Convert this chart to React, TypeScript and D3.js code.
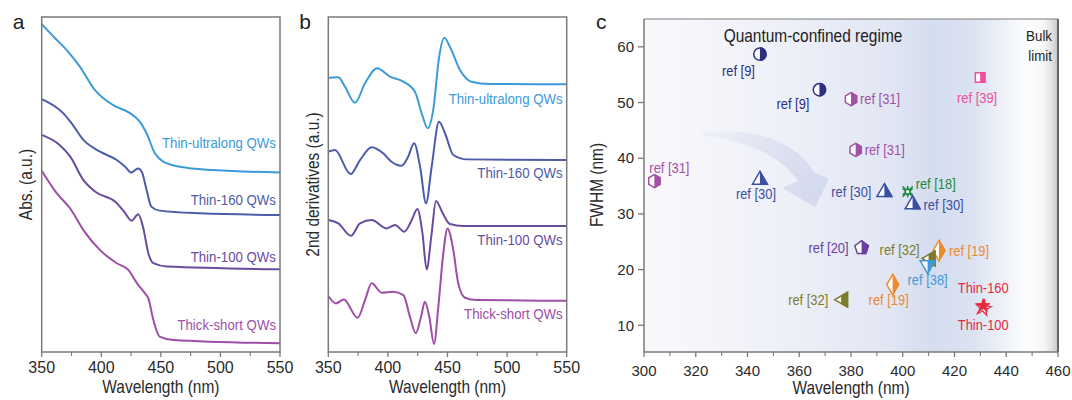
import React from "react";
import * as d3 from "d3";

// ---- panel a: absorption (a.u., offset stacked) ----
const absUltralong = [[350, 97.9], [360, 94.1], [371, 90.1], [382, 85.2], [394.7, 78.2], [410, 73.7], [424, 71.3], [432.5, 68.7], [438, 65.3], [445, 59.3], [452, 56.8], [466, 55.3], [494, 54.3], [550, 53.6]];
const absThin160 = [[350, 75.5], [368, 71.3], [375, 68.3], [385, 63.3], [399, 59.8], [413, 57.3], [420, 55.3], [425, 53.6], [431, 54.8], [434, 53.8], [438, 48.4], [442, 43.4], [449, 42.2], [483, 41.4], [550, 40.9]];
const absThin100 = [[350, 64.8], [365, 61.8], [374, 58.3], [385, 51.3], [396, 47.6], [411.5, 44.9], [419, 42.0], [425.5, 39.2], [431, 41.1], [435, 37.4], [439.5, 29.5], [443.7, 26.5], [455, 25.5], [550, 24.7]];
const absThickShort = [[350, 54.1], [362.6, 47.4], [373.8, 42.9], [385, 36.4], [399, 30.4], [413, 26.5], [422.7, 24.5], [430, 20.5], [436.7, 17.5], [439.5, 16], [443.7, 9.6], [449, 4.6], [460.5, 3.6], [550, 2.6]];

// ---- panel b: 2nd derivatives (a.u., offset stacked) ----
const derUltralong = [[350, 81.9], [358.4, 82.0], [364, 79.2], [372.4, 74.4], [380.8, 80.2], [391, 84.7], [401.7, 82.2], [413, 80.7], [422.7, 77.7], [428.3, 71.3], [433.4, 66.8], [438, 72.2], [443, 88.1], [447.3, 93.8], [452, 91.1], [460.5, 84.2], [470, 80.7], [485.7, 80.0], [550, 79.9]];
const derThin160 = [[350, 59.8], [355.6, 60.3], [368.7, 53.1], [376.6, 57.3], [386.4, 61.1], [396, 59.3], [403, 56.8], [411.5, 55.6], [417, 58.3], [422, 62.3], [427, 55.3], [432, 44.4], [436.7, 55.3], [442.9, 68.7], [447.9, 65.3], [454.9, 58.8], [466, 57.5], [550, 57.3]];
const derThin100 = [[350, 39.4], [358.4, 38.4], [369, 34.7], [376.6, 38.4], [386.4, 39.4], [399, 36.9], [406, 37.9], [413.8, 35.9], [420, 39.4], [424.7, 42.7], [429, 35.4], [432.5, 24.7], [436.7, 35.4], [440.3, 45.1], [446, 41.4], [452, 38.2], [463, 37.6], [550, 37.6]];
const derThickShort = [[350, 16.7], [356.4, 14.5], [363, 15.7], [374.6, 10.2], [380.8, 15.5], [386.4, 20.5], [394.8, 17.7], [404.5, 18.0], [413, 17.0], [418.5, 10.5], [423.3, 5.6], [427.8, 10.5], [431, 15.0], [434.7, 10.5], [438.7, 2.4], [442.3, 13.5], [446.5, 29.5], [450, 36.9], [454.9, 30.4], [459, 20.5], [464.7, 16.2], [474.5, 15.5], [550, 15.3]];

const sampleNames = ["Thin-ultralong QWs", "Thin-160 QWs", "Thin-100 QWs", "Thick-short QWs"];
const sampleColors = ["#3d9ad9", "#4c5ca9", "#6a4c9f", "#9e4ea6"];

const abTicks = [350, 400, 450, 500, 550];
const abMinor = [375, 425, 475, 525];

// ---- panel c: FWHM vs emission wavelength ----
const refNames = ["ref [9]", "ref [9]", "ref [31]", "ref [31]", "ref [39]", "ref [31]", "ref [30]", "ref [30]", "ref [18]", "ref [30]", "ref [20]", "ref [19]", "ref [32]", "ref [38]", "ref [19]", "ref [32]", "Thin-160", "Thin-100"];
const refWavelength = [344.8, 367.8, 380, 381.8, 429.9, 304, 344.8, 392.9, 401.9, 403.8, 384.1, 414, 410.8, 409.6, 396.1, 377, 431.1, 431.1];
const refFwhm = [58.7, 52.3, 50.6, 41.5, 54.5, 35.9, 36.1, 33.9, 34.0, 31.7, 23.9, 23.4, 22.0, 20.8, 17.3, 14.6, 13.5, 13.1];

const cXTicks = [300, 320, 340, 360, 380, 400, 420, 440, 460];
const cXMinor = [310, 330, 350, 370, 390, 410, 430, 450];
const cYTicks = [10, 20, 30, 40, 50, 60];

// styling of the markers / labels
const refShapes = ["circle", "circle", "hexagon", "hexagon", "square", "hexagon", "triangle", "triangle", "asterisk", "triangle", "pentagon", "diamond", "left", "down", "diamond", "left", "star", "starOpen"];
const refColors = ["#2c2f80", "#2c2f80", "#a24fa6", "#a24fa6", "#ee4f9c", "#a24fa6", "#3a4fa2", "#3a4fa2", "#1e8a3e", "#3a4fa2", "#6b40a0", "#f0892c", "#7c7c2c", "#3f9ad7", "#f0892c", "#7c7c2c", "#e8283c", "#e8283c"];
// label placement relative to the marker: dx, dy, anchor
const refLabelPos: [number, number, string][] = [
  [-5, 17, "end"], [-10, 14, "end"], [9, 0, "start"], [9, 0, "start"], [-3, 20, "middle"],
  [-5, -13, "start"], [-4, 14, "middle"], [-13, 0, "end"], [8, -8, "start"], [11, 0, "start"],
  [-13, 0, "end"], [10, 0, "start"], [-11, -9, "end"], [0, 15, "middle"], [-4, 15, "middle"],
  [-15, 0, "end"], [0, -18, "middle"], [0, 17, "middle"],
];

// curved hint arrow, in data units (nm, FWHM)
const arrowPts = [[321.6, 44.5], [341, 45.8], [358.4, 43.3], [365.7, 37.5], [371.5, 36.3], [366.1, 31.2], [353.5, 34.65], [359.5, 35.9], [352.6, 40.6], [339, 43.3], [322.8, 44.0]];

const FONT = "'Liberation Sans', Arial, Helvetica, sans-serif";
const AXIS = "#7a7a7a";
const INK = "#2a2a2a";

const NT = ({ x, y, size, fill = INK, anchor = "start", rotate = 0, sx = 0.86, children }: any) => (
  <text
    transform={`translate(${x},${y})${rotate ? ` rotate(${rotate})` : ""} scale(${sx},1)`}
    fontSize={size}
    fill={fill}
    textAnchor={anchor}
    dy="0.35em"
    fontFamily={FONT}
  >
    {children}
  </text>
);

const polygon = (n: number, rot: number) => ({
  draw(ctx: any, size: number) {
    const r = Math.sqrt(size / (0.5 * n * Math.sin((2 * Math.PI) / n)));
    for (let k = 0; k < n; k++) {
      const a = rot + (2 * Math.PI * k) / n;
      const px = r * Math.sin(a), py = -r * Math.cos(a);
      if (k === 0) ctx.moveTo(px, py);
      else ctx.lineTo(px, py);
    }
    ctx.closePath();
  },
});

const symbolTypes: any = {
  circle: [d3.symbolCircle, 120],
  hexagon: [polygon(6, 0), 110],
  square: [d3.symbolSquare, 90],
  triangle: [polygon(3, 0), 95],
  down: [polygon(3, Math.PI), 95],
  left: [polygon(3, -Math.PI / 2), 95],
  pentagon: [polygon(5, 0), 120],
  diamond: [d3.symbolDiamond, 120],
};

const SpectraPanel = ({ x0, x1, letter, ylabel, curves, labelY }: any) => {
  const top = 17, bottom = 352;
  const x = d3.scaleLinear().domain([350, 550]).range([x0, x1]);
  const y = d3.scaleLinear().domain([0, 100]).range([bottom, top]);
  const line = d3.line<number[]>().x((d) => x(d[0])).y((d) => y(d[1])).curve(d3.curveMonotoneX);
  return (
    <g>
      {curves.map((c: number[][], i: number) => (
        <path key={i} d={line(c) as string} fill="none" stroke={sampleColors[i]} strokeWidth={2} />
      ))}
      {sampleNames.map((n, i) => (
        <NT key={n} x={x1 - 4} y={labelY[i]} size={15.4} fill={sampleColors[i]} anchor="end">{n}</NT>
      ))}
      <rect x={x0} y={top} width={x1 - x0} height={bottom - top} fill="none" stroke={AXIS} strokeWidth={1.5} />
      {abTicks.map((t) => (
        <g key={t}>
          <line x1={x(t)} x2={x(t)} y1={bottom} y2={bottom + 5} stroke={AXIS} strokeWidth={1.3} />
          <text x={x(t)} y={373} textAnchor="middle" fontSize={16} fill={INK} fontFamily={FONT}>{t}</text>
        </g>
      ))}
      {abMinor.map((t) => (
        <line key={t} x1={x(t)} x2={x(t)} y1={bottom} y2={bottom + 4} stroke={AXIS} strokeWidth={1.1} />
      ))}
      <NT x={(x0 + x1) / 2} y={387} size={18} anchor="middle">Wavelength (nm)</NT>
      <NT x={x0 - 16} y={(top + bottom) / 2} size={18} anchor="middle" rotate={-90}>{ylabel}</NT>
      <text x={x0 - 29} y={29} fontSize={21} fill="#222" fontFamily={FONT}>{letter}</text>
    </g>
  );
};

const FwhmPanel = () => {
  const x0 = 644, x1 = 1058, top = 19, bottom = 352;
  const x = d3.scaleLinear().domain([300, 460]).range([x0, x1]);
  const y = d3.scaleLinear().domain([5.2, 65]).range([bottom, top]);
  const a = arrowPts.map((p) => [x(p[0]), y(p[1])]);
  const arrow = d3.path();
  arrow.moveTo(a[0][0], a[0][1]);
  arrow.bezierCurveTo(a[1][0], a[1][1], a[2][0], a[2][1], a[3][0], a[3][1]);
  arrow.lineTo(a[4][0], a[4][1]);
  arrow.lineTo(a[5][0], a[5][1]);
  arrow.lineTo(a[6][0], a[6][1]);
  arrow.lineTo(a[7][0], a[7][1]);
  arrow.bezierCurveTo(a[8][0], a[8][1], a[9][0], a[9][1], a[10][0], a[10][1]);
  arrow.closePath();

  return (
    <g>
      <defs>
        <linearGradient id="bgGrad" x1="0" x2="1" y1="0" y2="0">
          <stop offset="0" stopColor="#f9f9fc" />
          <stop offset="0.35" stopColor="#eef0f8" />
          <stop offset="0.58" stopColor="#e2e7f4" />
          <stop offset="0.7" stopColor="#d4ddef" />
          <stop offset="0.8" stopColor="#dce3f2" />
          <stop offset="0.88" stopColor="#f1f4f9" />
          <stop offset="0.93" stopColor="#fdfdfe" />
          <stop offset="0.965" stopColor="#f7f7f7" />
          <stop offset="0.985" stopColor="#e2e2e2" />
          <stop offset="1" stopColor="#c6c6c6" />
        </linearGradient>
        <linearGradient id="arrowGrad" gradientUnits="userSpaceOnUse" x1={a[0][0]} x2={a[5][0]} y1={a[0][1]} y2={a[5][1]}>
          <stop offset="0" stopColor="#dde1f0" stopOpacity={0.2} />
          <stop offset="0.6" stopColor="#d8ddef" stopOpacity={0.85} />
          <stop offset="1" stopColor="#d3daee" stopOpacity={1} />
        </linearGradient>
        <clipPath id="rightHalf" clipPathUnits="objectBoundingBox">
          <rect x={0.5} y={-0.1} width={0.6} height={1.2} />
        </clipPath>
      </defs>
      <rect x={x0} y={top} width={x1 - x0} height={bottom - top} fill="url(#bgGrad)" />
      <path d={arrow.toString()} fill="url(#arrowGrad)" />

      <NT x={813} y={36} size={18} anchor="middle" fill="#222">Quantum-confined regime</NT>
      <NT x={1052} y={36} size={15.5} anchor="end" fill="#222">Bulk</NT>
      <NT x={1052} y={56} size={15.5} anchor="end" fill="#222">limit</NT>

      {refNames.map((name, i) => {
        const cx = x(refWavelength[i]), cy = y(refFwhm[i]);
        const shape = refShapes[i], col = refColors[i];
        const [dx, dy, anchor] = refLabelPos[i];
        let marker;
        if (shape === "asterisk") {
          marker = (
            <g stroke={col} strokeWidth={1.6} fill="none">
              <path d={d3.symbol(d3.symbolTimes, 70)() as string} />
              <path d={d3.symbol(d3.symbolAsterisk, 90)() as string} />
              <circle r={2.5} fill="#fff" />
            </g>
          );
        } else if (shape === "star") {
          marker = <path d={d3.symbol(d3.symbolStar, 55)() as string} fill={col} stroke={col} strokeWidth={1} />;
        } else if (shape === "starOpen") {
          marker = <path d={d3.symbol(d3.symbolStar, 75)() as string} fill="none" stroke={col} strokeWidth={1.2} transform="rotate(10)" />;
        } else {
          const [type, size] = symbolTypes[shape];
          const d = d3.symbol(type, size)() as string;
          marker = (
            <g>
              <path d={d} fill="#fff" stroke={col} strokeWidth={1.5} />
              <path d={d} fill={col} stroke={col} strokeWidth={1.5} clipPath="url(#rightHalf)" />
            </g>
          );
        }
        return (
          <g key={i}>
            <g transform={`translate(${cx},${cy})`}>{marker}</g>
            <NT x={cx + dx} y={cy + dy} size={15} anchor={anchor} fill={col}>{name}</NT>
          </g>
        );
      })}

      <line x1={x0} x2={x1} y1={top} y2={top} stroke={AXIS} strokeWidth={1} />
      <line x1={x1} x2={x1} y1={top} y2={bottom} stroke="#666" strokeWidth={2} />
      <line x1={x0} x2={x0} y1={top} y2={bottom} stroke={AXIS} strokeWidth={1.5} />
      <line x1={x0} x2={x1} y1={bottom} y2={bottom} stroke={AXIS} strokeWidth={1.5} />
      {cXTicks.map((t) => (
        <g key={t}>
          <line x1={x(t)} x2={x(t)} y1={bottom} y2={bottom + 5} stroke={AXIS} strokeWidth={1.3} />
          <text x={x(t)} y={376} textAnchor="middle" fontSize={15} fill={INK} fontFamily={FONT}>{t}</text>
        </g>
      ))}
      {cXMinor.map((t) => (
        <line key={t} x1={x(t)} x2={x(t)} y1={bottom} y2={bottom + 4} stroke={AXIS} strokeWidth={1.1} />
      ))}
      {cYTicks.map((t) => (
        <g key={t}>
          <line x1={x0 - 6} x2={x0} y1={y(t)} y2={y(t)} stroke={AXIS} strokeWidth={1.3} />
          <text x={x0 - 10} y={y(t)} dy="0.35em" textAnchor="end" fontSize={15} fill={INK} fontFamily={FONT}>{t}</text>
        </g>
      ))}
      <NT x={(x0 + x1) / 2} y={388} size={18} anchor="middle">Wavelength (nm)</NT>
      <NT x={597} y={185} size={18} anchor="middle" rotate={-90}>FWHM (nm)</NT>
      <text x={596} y={29} fontSize={21} fill="#222" fontFamily={FONT}>c</text>
    </g>
  );
};

export default function App() {
  return (
    <svg width={1072} height={400} style={{ position: "absolute", left: 0, top: 0, background: "#fff" }}>
      <SpectraPanel
        x0={41.7} x1={280} letter="a" ylabel="Abs. (a.u.)"
        curves={[absUltralong, absThin160, absThin100, absThickShort]}
        labelY={[143, 200, 257, 325]}
      />
      <SpectraPanel
        x0={328.3} x1={566.7} letter="b" ylabel="2nd derivatives (a.u.)"
        curves={[derUltralong, derThin160, derThin100, derThickShort]}
        labelY={[99, 173, 240, 314]}
      />
      <FwhmPanel />
    </svg>
  );
}
